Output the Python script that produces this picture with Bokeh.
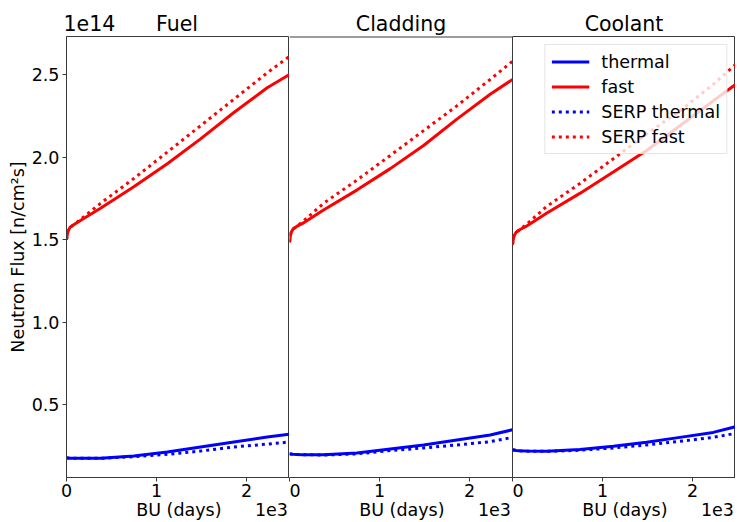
from bokeh.plotting import figure
from bokeh.layouts import row
from bokeh.models import FixedTicker, Range1d, Span
from bokeh.embed import file_html
from bokeh.resources import INLINE

# burnup (days)
days = [0, 15, 40, 80, 150, 378, 748, 1120, 1490, 1860, 2230, 2478]

# neutron flux, units of 1e14 n/cm^2 s
fuel_thermal = [0.178, 0.178, 0.177, 0.177, 0.176, 0.176, 0.190, 0.215, 0.245, 0.275, 0.305, 0.322]
fuel_fast = [1.50, 1.55, 1.575, 1.59, 1.615, 1.69, 1.82, 1.96, 2.11, 2.27, 2.42, 2.50]
fuel_serp_thermal = [0.178, 0.178, 0.177, 0.177, 0.176, 0.176, 0.186, 0.200, 0.220, 0.245, 0.262, 0.275]
fuel_serp_fast = [1.50, 1.55, 1.575, 1.59, 1.62, 1.72, 1.87, 2.03, 2.19, 2.35, 2.51, 2.61]

clad_thermal = [0.203, 0.202, 0.200, 0.199, 0.198, 0.197, 0.209, 0.233, 0.257, 0.287, 0.317, 0.349]
clad_fast = [1.484, 1.54, 1.565, 1.58, 1.60, 1.68, 1.80, 1.93, 2.07, 2.23, 2.38, 2.47]
clad_serp_thermal = [0.203, 0.202, 0.200, 0.199, 0.198, 0.196, 0.203, 0.223, 0.239, 0.257, 0.277, 0.303]
clad_serp_fast = [1.484, 1.54, 1.565, 1.58, 1.61, 1.72, 1.86, 2.01, 2.16, 2.31, 2.47, 2.58]

cool_thermal = [0.227, 0.226, 0.224, 0.222, 0.220, 0.219, 0.229, 0.249, 0.273, 0.303, 0.333, 0.367]
cool_fast = [1.47, 1.52, 1.545, 1.56, 1.58, 1.66, 1.78, 1.91, 2.04, 2.19, 2.34, 2.44]
cool_serp_thermal = [0.227, 0.226, 0.224, 0.222, 0.220, 0.218, 0.225, 0.239, 0.257, 0.279, 0.303, 0.327]
cool_serp_fast = [1.47, 1.52, 1.545, 1.56, 1.59, 1.70, 1.84, 1.99, 2.14, 2.28, 2.44, 2.56]

titles = ["Fuel", "Cladding", "Coolant"]
panels = [
    (fuel_thermal, fuel_fast, fuel_serp_thermal, fuel_serp_fast),
    (clad_thermal, clad_fast, clad_serp_thermal, clad_serp_fast),
    (cool_thermal, cool_fast, cool_serp_thermal, cool_serp_fast),
]
y_ticks = [0.5, 1.0, 1.5, 2.0, 2.5]
x_ticks = [0, 1000, 2000]
y_offset_text = "1e14"
x_offset_text = "1e3"
x_label = "BU (days)"
y_label = "Neutron Flux [n/cm\u00b2s]"

FONT = "DejaVu Sans"
EDGE = "#3a3a3a"
FS = "17.5px"
NB = "\u00a0"
TH = "\u2009"
Y0, Y1 = 0.06, 2.73
X0, X1 = 0, 2478
y_range = Range1d(Y0, Y1)
x_range = Range1d(X0, X1)
FRAME_W, FRAME_H = 223, 443

figs = []
for i, (title, data) in enumerate(zip(titles, panels)):
    left = 66 if i == 0 else 0
    if i == 0:
        ttl = y_offset_text + NB * 5 + TH * 2 + title
        talign = "left"
    else:
        ttl = title
        talign = "center"
    p = figure(width=FRAME_W + left, height=522,
               x_range=x_range, y_range=y_range,
               output_backend="svg", toolbar_location=None,
               min_border_left=left, min_border_right=0,
               min_border_top=36, min_border_bottom=43,
               title=ttl)
    p.title.text_font = FONT
    p.title.text_font_size = "20.5px"
    p.title.text_font_style = "normal"
    p.title.align = talign
    p.title.text_color = "black"
    p.title.standoff = 2
    if i == 0:
        p.title.offset = -3
    p.grid.visible = False
    p.background_fill_color = "white"
    p.border_fill_color = "white"
    if i == 1:
        # shares its left edge with panel 1 and its right edge with panel 3
        p.outline_line_color = None
        p.add_layout(Span(location=Y1, dimension="width",
                          line_color=EDGE, line_width=2))
    else:
        p.outline_line_color = EDGE
        p.outline_line_width = 1

    # x axis (label padded so the offset text sits at the right end)
    xa = p.xaxis[0]
    xa.ticker = FixedTicker(ticks=x_ticks)
    xa.major_label_overrides = {0: "0", 1000: "1", 2000: "2"}
    xa.axis_label = NB * 11 + TH * 2 + x_label + NB * 6 + x_offset_text
    xa.axis_label_text_font = FONT
    xa.axis_label_text_font_size = FS
    xa.axis_label_text_font_style = "normal"
    xa.axis_label_text_color = "black"
    xa.axis_label_standoff = 0
    xa.major_label_text_font = FONT
    xa.major_label_text_font_size = FS
    xa.major_label_text_color = "black"
    xa.major_label_standoff = 2
    xa.major_tick_out = 4
    xa.major_tick_in = 0
    xa.minor_tick_out = 0
    xa.minor_tick_in = 0
    xa.axis_line_color = EDGE
    xa.major_tick_line_color = EDGE

    if i == 0:
        ya = p.yaxis[0]
        ya.ticker = FixedTicker(ticks=y_ticks)
        ya.major_label_overrides = {t: f"{t:.1f}" for t in y_ticks}
        ya.axis_label = y_label
        ya.axis_label_text_font = FONT
        ya.axis_label_text_font_size = FS
        ya.axis_label_text_font_style = "normal"
        ya.axis_label_text_color = "black"
        ya.axis_label_standoff = 1
        ya.major_label_text_font = FONT
        ya.major_label_text_font_size = FS
        ya.major_label_text_color = "black"
        ya.major_label_standoff = 3
        ya.major_tick_out = 4
        ya.major_tick_in = 0
        ya.minor_tick_out = 0
        ya.minor_tick_in = 0
        ya.axis_line_color = EDGE
        ya.major_tick_line_color = EDGE
    else:
        p.yaxis.visible = False

    th, fa, sth, sfa = data
    kw = dict(line_width=3)
    if i == 2:
        p.line(days, th, color="#0000ff", legend_label="thermal", **kw)
        p.line(days, fa, color="#ff0000", legend_label="fast", **kw)
        p.line(days, sth, color="#0000ff", line_dash="3 4",
               legend_label="SERP thermal", **kw)
        p.line(days, sfa, color="#ff0000", line_dash="3 4",
               legend_label="SERP fast", **kw)
        lg = p.legend[0]
        lg.location = "top_right"
        lg.margin = 8
        lg.padding = 6
        lg.spacing = 4
        lg.label_text_font = FONT
        lg.label_text_font_size = FS
        lg.label_text_color = "black"
        lg.glyph_width = 38
        lg.glyph_height = 21
        lg.label_standoff = 12
        lg.border_line_color = "#cccccc"
        lg.background_fill_alpha = 0.8
    else:
        p.line(days, th, color="#0000ff", **kw)
        p.line(days, fa, color="#ff0000", **kw)
        p.line(days, sth, color="#0000ff", line_dash="3 4", **kw)
        p.line(days, sfa, color="#ff0000", line_dash="3 4", **kw)
    figs.append(p)

layout = row(*figs, spacing=0)
open("out.html", "w").write(file_html(layout, INLINE))
